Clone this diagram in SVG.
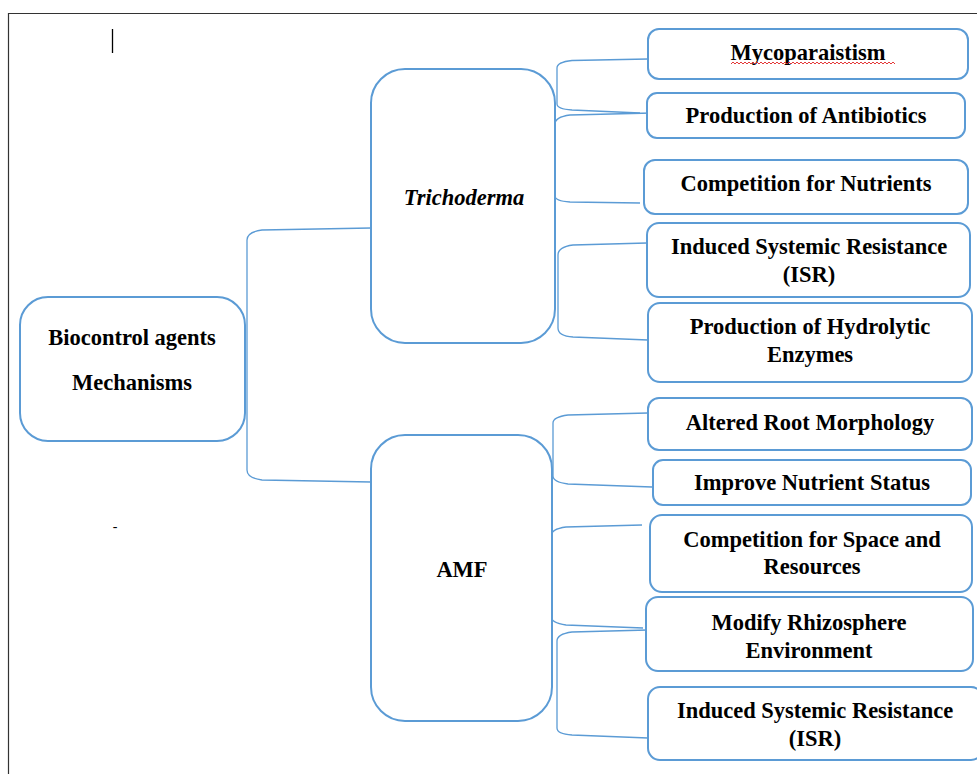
<svg xmlns="http://www.w3.org/2000/svg" width="977" height="774" viewBox="0 0 977 774">
<style>
.box{fill:#fff;stroke:#5B9BD5;stroke-width:2}
.con{fill:none;stroke:#5B9BD5;stroke-width:1.3}
.t{font-family:"Liberation Serif","Times New Roman",serif;font-size:22.5px;font-weight:bold;fill:#000;text-anchor:middle}
.it{font-style:italic}
</style>
<rect width="977" height="774" fill="#fff"/>
<path d="M8.5,774 V13.5 H977" fill="none" stroke="#333" stroke-width="1.2"/>
<line x1="112.5" y1="29" x2="112.5" y2="53" stroke="#000" stroke-width="1.3"/>
<text x="115" y="531" font-family="Liberation Serif, serif" font-size="14" text-anchor="middle">-</text>

<g id="connectors">
<path class="con" d="M371,228 L262,230 Q247,232 247,240 V470 Q247,478 262,480 L371,482"/>
<path class="con" d="M648,59 L572,60.5 Q557,62 557,68 V104 Q557,109 572,110 L640,113"/>
<path class="con" d="M652,113 L570,115 Q555,117 555,124 V196 Q555,201 570,202 L640,203"/>
<path class="con" d="M647,243 L573,245 Q558,247 558,255 V328 Q558,336 573,337 L648,340"/>
<path class="con" d="M648,413 L568,415 Q553,417 553,423 V476 Q553,482 568,484 L652,487"/>
<path class="con" d="M642,525 L566,527 Q551,529 551,536 V616 Q551,623 566,625 L643,628"/>
<path class="con" d="M648,630 L572,632 Q557,634 557,641 V728 Q557,734 572,735 L648,738"/>
</g>

<g id="root">
<rect class="box" x="20" y="297" width="225" height="144" rx="28"/>
<text class="t" x="132" y="345">Biocontrol agents</text>
<text class="t" x="132" y="390">Mechanisms</text>
</g>
<g id="trichoderma">
<rect class="box" x="371" y="69" width="184" height="274" rx="34"/>
<text class="t it" x="464" y="205">Trichoderma</text>
</g>
<g id="amf">
<rect class="box" x="371" y="435" width="181" height="286" rx="34"/>
<text class="t" x="462" y="577">AMF</text>
</g>

<g id="mycoparaistism">
<rect class="box" x="648" y="29" width="320" height="50" rx="11"/>
<text class="t" x="808" y="60">Mycoparaistism</text>
<path d="M731,64 l2,-2 l2,2 l2,-2 l2,2 l2,-2 l2,2 l2,-2 l2,2 l2,-2 l2,2 l2,-2 l2,2 l2,-2 l2,2 l2,-2 l2,2 l2,-2 l2,2 l2,-2 l2,2 l2,-2 l2,2 l2,-2 l2,2 l2,-2 l2,2 l2,-2 l2,2 l2,-2 l2,2 l2,-2 l2,2 l2,-2 l2,2 l2,-2 l2,2 l2,-2 l2,2 l2,-2 l2,2 l2,-2 l2,2 l2,-2 l2,2 l2,-2 l2,2 l2,-2 l2,2 l2,-2 l2,2 l2,-2 l2,2 l2,-2 l2,2 l2,-2 l2,2 l2,-2 l2,2 l2,-2 l2,2 l2,-2 l2,2 l2,-2 l2,2 l2,-2 l2,2 l2,-2 l2,2 l2,-2 l2,2 l2,-2 l2,2 l2,-2 l2,2 l2,-2 l2,2 l2,-2 l2,2 l2,-2 l2,2 l2,-2 l2,2" fill="none" stroke="#e02020" stroke-width="0.9"/>
</g>
<g id="antibiotics">
<rect class="box" x="647" y="93" width="318" height="45" rx="10"/>
<text class="t" x="806" y="123">Production of Antibiotics</text>
</g>
<g id="nutrients">
<rect class="box" x="644" y="160" width="324" height="54" rx="11"/>
<text class="t" x="806" y="191">Competition for Nutrients</text>
</g>
<g id="isr1">
<rect class="box" x="647" y="223" width="323" height="74" rx="12"/>
<text class="t" x="809" y="254">Induced Systemic Resistance</text>
<text class="t" x="809" y="282">(ISR)</text>
</g>
<g id="hydrolytic">
<rect class="box" x="648" y="303" width="324" height="79" rx="12"/>
<text class="t" x="810" y="334">Production of Hydrolytic</text>
<text class="t" x="810" y="362">Enzymes</text>
</g>
<g id="root-morphology">
<rect class="box" x="648" y="398" width="324" height="52" rx="11"/>
<text class="t" x="810" y="430">Altered Root Morphology</text>
</g>
<g id="nutrient-status">
<rect class="box" x="653" y="460" width="318" height="45" rx="10"/>
<text class="t" x="812" y="490">Improve Nutrient Status</text>
</g>
<g id="space">
<rect class="box" x="650" y="515" width="322" height="77" rx="12"/>
<text class="t" x="812" y="547">Competition for Space and</text>
<text class="t" x="812" y="574">Resources</text>
</g>
<g id="rhizosphere">
<rect class="box" x="646" y="597" width="327" height="74" rx="12"/>
<text class="t" x="809" y="630">Modify Rhizosphere</text>
<text class="t" x="809" y="658">Environment</text>
</g>
<g id="isr2">
<rect class="box" x="648" y="687" width="335" height="73" rx="12"/>
<text class="t" x="815" y="718">Induced Systemic Resistance</text>
<text class="t" x="815" y="746">(ISR)</text>
</g>
</svg>
